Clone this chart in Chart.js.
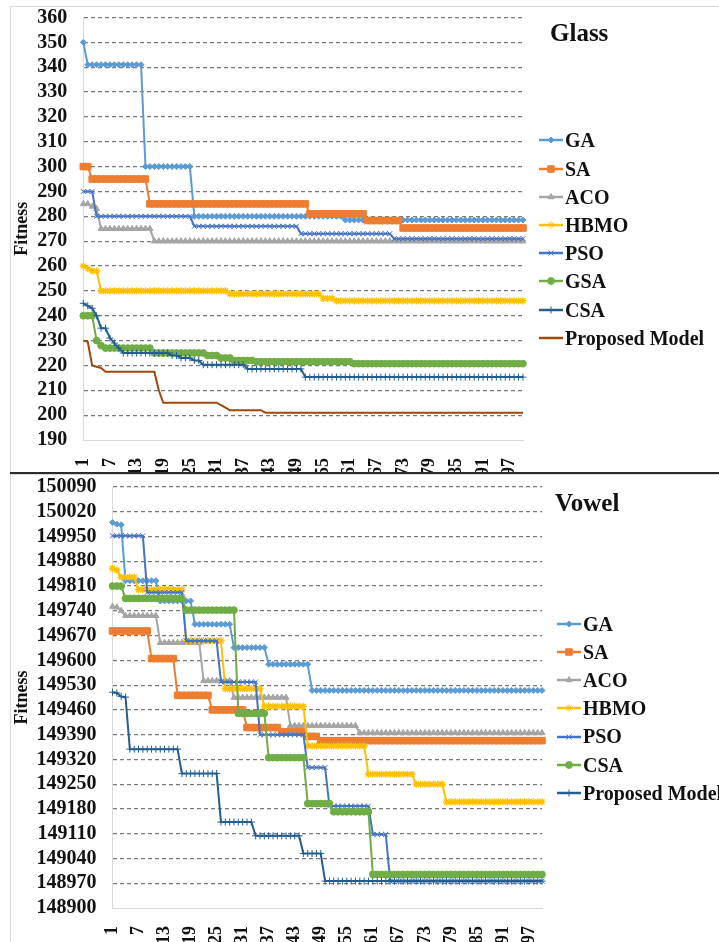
<!DOCTYPE html>
<html>
<head>
<meta charset="utf-8">
<script src="https://cdn.jsdelivr.net/npm/chart.js@4.4.1/dist/chart.umd.min.js"></script>
<style>
  html, body { margin: 0; padding: 0; background: #fff; }
  body { width: 719px; height: 942px; position: relative; overflow: hidden;
         font-family: "Liberation Serif", "Times New Roman", serif; color: #111; }
  canvas.chart { position: absolute; left: 0; }
  .frame { position: absolute; border: 1px solid #d9d9d9; }
  .sep { position: absolute; left: 10px; top: 471.5px; width: 709px; height: 2px; background: #2b2b2b; z-index: 3; }
  .title { position: absolute; font-weight: bold; font-size: 25px; line-height: 25px; white-space: nowrap; }
  .legend { position: absolute; font-weight: bold; font-size: 20px; }
  .legend div { height: 28.2px; line-height: 28.2px; display: flex; align-items: center; white-space: nowrap; }
  .legend canvas { margin-right: 2px; }
</style>
</head>
<body>
<div class="frame" style="left:10px; top:6px; width:720px; height:466px;"></div>
<div class="frame" style="left:10px; top:474px; width:720px; height:480px;"></div>
<canvas id="glassChart" class="chart" width="719" height="472" style="top:0;"></canvas>
<canvas id="vowelChart" class="chart" width="719" height="470" style="top:472px;"></canvas>
<div class="sep"></div>
<div class="title" style="left:550px; top:20px;">Glass</div>
<div class="title" style="left:555px; top:490px;">Vowel</div>
<div id="glassLegend" class="legend" style="left:539px; top:126.4px;"></div>
<div id="vowelLegend" class="legend" style="left:557px; top:609.7px;"></div>

<script>
// iterations on the category axis
const iterations = ['1','2','3','4','5','6','7','8','9','10','11','12','13','14','15','16','17','18','19','20',
  '21','22','23','24','25','26','27','28','29','30','31','32','33','34','35','36','37','38','39','40',
  '41','42','43','44','45','46','47','48','49','50','51','52','53','54','55','56','57','58','59','60',
  '61','62','63','64','65','66','67','68','69','70','71','72','73','74','75','76','77','78','79','80',
  '81','82','83','84','85','86','87','88','89','90','91','92','93','94','95','96','97','98','99','100'];
const xTickLabels = ['1','7','13','19','25','31','37','43','49','55','61','67','73','79','85','91','97'];

const glassTicks = [190,200,210,220,230,240,250,260,270,280,290,300,310,320,330,340,350,360];
const vowelTicks = [148900,148970,149040,149110,149180,149250,149320,149390,149460,149530,
  149600,149670,149740,149810,149880,149950,150020,150090];

const glassNames = ['GA','SA','ACO','HBMO','PSO','GSA','CSA','Proposed Model'];
const vowelNames = ['GA','SA','ACO','HBMO','PSO','CSA','Proposed Model'];

// ---- Glass ----
const glassGA = [
  350,341,341,341,341,341,341,341,341,341,
  341,341,341,341,300,300,300,300,300,300,
  300,300,300,300,300,280,280,280,280,280,
  280,280,280,280,280,280,280,280,280,280,
  280,280,280,280,280,280,280,280,280,280,
  280,280,280,280,280,280,280,280,280,278.5,
  278.5,278.5,278.5,278.5,278.5,278.5,278.5,278.5,278.5,278.5,
  278.5,278.5,278.5,278.5,278.5,278.5,278.5,278.5,278.5,278.5,
  278.5,278.5,278.5,278.5,278.5,278.5,278.5,278.5,278.5,278.5,
  278.5,278.5,278.5,278.5,278.5,278.5,278.5,278.5,278.5,278.5];
const glassSA = [
  300,300,295,295,295,295,295,295,295,295,
  295,295,295,295,295,285,285,285,285,285,
  285,285,285,285,285,285,285,285,285,285,
  285,285,285,285,285,285,285,285,285,285,
  285,285,285,285,285,285,285,285,285,285,
  285,281,281,281,281,281,281,281,281,281,
  281,281,281,281,278.3,278.3,278.3,278.3,278.3,278.3,
  278.3,278.3,275.3,275.3,275.3,275.3,275.3,275.3,275.3,275.3,
  275.3,275.3,275.3,275.3,275.3,275.3,275.3,275.3,275.3,275.3,
  275.3,275.3,275.3,275.3,275.3,275.3,275.3,275.3,275.3,275.3];
const glassACO = [
  285,285,284,283,275,275,275,275,275,275,
  275,275,275,275,275,275,270,270,270,270,
  270,270,270,270,270,270,270,270,270,270,
  270,270,270,270,270,270,270,270,270,270,
  270,270,270,270,270,270,270,270,270,270,
  270,270,270,270,270,270,270,270,270,270,
  270,270,270,270,270,270,270,270,270,270,
  270,270,270,270,270,270,270,270,270,270,
  270,270,270,270,270,270,270,270,270,270,
  270,270,270,270,270,270,270,270,270,270];
const glassHBMO = [
  260,259,258,258,250,250,250,250,250,250,
  250,250,250,250,250,250,250,250,250,250,
  250,250,250,250,250,250,250,250,250,250,
  250,250,250,248.8,248.8,248.8,248.8,248.8,248.8,248.8,
  248.8,248.8,248.8,248.8,248.8,248.8,248.8,248.8,248.8,248.8,
  248.8,248.8,248.8,248.8,247,247,247,246,246,246,
  246,246,246,246,246,246,246,246,246,246,
  246,246,246,246,246,246,246,246,246,246,
  246,246,246,246,246,246,246,246,246,246,
  246,246,246,246,246,246,246,246,246,246];
const glassPSO = [
  290,290,290,280,280,280,280,280,280,280,
  280,280,280,280,280,280,280,280,280,280,
  280,280,280,280,280,276,276,276,276,276,
  276,276,276,276,276,276,276,276,276,276,
  276,276,276,276,276,276,276,276,276,273,
  273,273,273,273,273,273,273,273,273,273,
  273,273,273,273,273,273,273,273,273,273,
  271,271,271,271,271,271,271,271,271,271,
  271,271,271,271,271,271,271,271,271,271,
  271,271,271,271,271,271,271,271,271,271];
const glassGSA = [
  240,240,240,230,228,227,227,227,227,227,
  227,227,227,227,227,227,225,225,225,225,
  225,225,225,225,225,225,225,225,224,224,
  224,223,223,223,222,222,222,222,222,221.5,
  221.5,221.5,221.5,221.5,221.5,221.5,221.5,221.5,221.5,221.5,
  221.5,221.5,221.5,221.5,221.5,221.5,221.5,221.5,221.5,221.5,
  221.5,220.7,220.7,220.7,220.7,220.7,220.7,220.7,220.7,220.7,
  220.7,220.7,220.7,220.7,220.7,220.7,220.7,220.7,220.7,220.7,
  220.7,220.7,220.7,220.7,220.7,220.7,220.7,220.7,220.7,220.7,
  220.7,220.7,220.7,220.7,220.7,220.7,220.7,220.7,220.7,220.7];
const glassCSA = [
  245,244,243,240,235,235,231,229,227,225,
  225,225,225,225,225,225,225,225,225,225,
  224,224,223,223,223,222,222,220.3,220.3,220.3,
  220.3,220.3,220.3,220.3,220.3,220.3,220.3,218.6,218.6,218.6,
  218.6,218.6,218.6,218.6,218.6,218.6,218.6,218.6,218.6,218.6,
  215.3,215.3,215.3,215.3,215.3,215.3,215.3,215.3,215.3,215.3,
  215.3,215.3,215.3,215.3,215.3,215.3,215.3,215.3,215.3,215.3,
  215.3,215.3,215.3,215.3,215.3,215.3,215.3,215.3,215.3,215.3,
  215.3,215.3,215.3,215.3,215.3,215.3,215.3,215.3,215.3,215.3,
  215.3,215.3,215.3,215.3,215.3,215.3,215.3,215.3,215.3,215.3];
const glassProposed = [
  230,229.5,220,219.5,219,217.5,217.5,217.5,217.5,217.5,
  217.5,217.5,217.5,217.5,217.5,217.5,217.5,210,205,205,
  205,205,205,205,205,205,205,205,205,205,
  205,204,203,202,202,202,202,202,202,202,
  202,201,201,201,201,201,201,201,201,201,
  201,201,201,201,201,201,201,201,201,201,
  201,201,201,201,201,201,201,201,201,201,
  201,201,201,201,201,201,201,201,201,201,
  201,201,201,201,201,201,201,201,201,201,
  201,201,201,201,201,201,201,201,201,201];

// ---- Vowel ----
const vowelGA = [
  149990,149985,149983,149825,149825,149825,149825,149825,149825,149825,
  149825,149768,149768,149768,149768,149768,149768,149768,149768,149702,
  149702,149702,149702,149702,149702,149702,149702,149702,149636,149636,
  149636,149636,149636,149636,149636,149636,149589,149589,149589,149589,
  149589,149589,149589,149589,149589,149589,149515,149515,149515,149515,
  149515,149515,149515,149515,149515,149515,149515,149515,149515,149515,
  149515,149515,149515,149515,149515,149515,149515,149515,149515,149515,
  149515,149515,149515,149515,149515,149515,149515,149515,149515,149515,
  149515,149515,149515,149515,149515,149515,149515,149515,149515,149515,
  149515,149515,149515,149515,149515,149515,149515,149515,149515,149515];
const vowelSA = [
  149683,149683,149683,149683,149683,149683,149683,149683,149683,149605,
  149605,149605,149605,149605,149605,149501,149501,149501,149501,149501,
  149501,149501,149501,149460,149460,149460,149460,149460,149460,149460,
  149460,149410,149410,149410,149410,149410,149410,149410,149410,149398,
  149398,149398,149398,149398,149398,149385,149385,149385,149373,149373,
  149373,149373,149373,149373,149373,149373,149373,149373,149373,149373,
  149373,149373,149373,149373,149373,149373,149373,149373,149373,149373,
  149373,149373,149373,149373,149373,149373,149373,149373,149373,149373,
  149373,149373,149373,149373,149373,149373,149373,149373,149373,149373,
  149373,149373,149373,149373,149373,149373,149373,149373,149373,149373];
const vowelACO = [
  149752,149750,149740,149726,149726,149726,149726,149726,149726,149726,
  149726,149650,149650,149650,149650,149650,149650,149650,149650,149650,
  149650,149542,149542,149542,149542,149542,149542,149542,149495,149495,
  149495,149495,149495,149495,149495,149495,149495,149495,149495,149495,
  149495,149415,149415,149415,149415,149415,149415,149415,149415,149415,
  149415,149415,149415,149415,149415,149415,149415,149395,149395,149395,
  149395,149395,149395,149395,149395,149395,149395,149395,149395,149395,
  149395,149395,149395,149395,149395,149395,149395,149395,149395,149395,
  149395,149395,149395,149395,149395,149395,149395,149395,149395,149395,
  149395,149395,149395,149395,149395,149395,149395,149395,149395,149395];
const vowelHBMO = [
  149860,149855,149835,149835,149835,149835,149800,149800,149800,149800,
  149800,149800,149800,149800,149800,149800,149800,149655,149655,149655,
  149655,149655,149655,149655,149655,149655,149520,149520,149520,149520,
  149520,149520,149520,149520,149520,149470,149470,149470,149470,149470,
  149470,149470,149470,149470,149470,149358,149358,149358,149358,149358,
  149358,149358,149358,149358,149358,149358,149358,149358,149358,149278,
  149278,149278,149278,149278,149278,149278,149278,149278,149278,149278,
  149250,149250,149250,149250,149250,149250,149250,149200,149200,149200,
  149200,149200,149200,149200,149200,149200,149200,149200,149200,149200,
  149200,149200,149200,149200,149200,149200,149200,149200,149200,149200];
const vowelPSO = [
  149952,149952,149952,149952,149952,149952,149952,149952,149792,149792,
  149792,149792,149792,149792,149792,149792,149792,149655,149655,149655,
  149655,149655,149655,149655,149655,149539,149539,149539,149539,149539,
  149539,149539,149539,149539,149390,149390,149390,149390,149390,149390,
  149390,149390,149390,149390,149390,149297,149297,149297,149297,149297,
  149188,149188,149188,149188,149188,149188,149188,149188,149188,149188,
  149108,149108,149108,149108,148976,148976,148976,148976,148976,148976,
  148976,148976,148976,148976,148976,148976,148976,148976,148976,148976,
  148976,148976,148976,148976,148976,148976,148976,148976,148976,148976,
  148976,148976,148976,148976,148976,148976,148976,148976,148976,148976];
const vowelCSA = [
  149810,149810,149810,149775,149775,149775,149775,149775,149775,149775,
  149775,149775,149775,149775,149775,149775,149775,149742,149742,149742,
  149742,149742,149742,149742,149742,149742,149742,149742,149742,149450,
  149450,149450,149450,149450,149450,149450,149325,149325,149325,149325,
  149325,149325,149325,149325,149325,149195,149195,149195,149195,149195,
  149195,149172,149172,149172,149172,149172,149172,149172,149172,149172,
  148995,148995,148995,148995,148995,148995,148995,148995,148995,148995,
  148995,148995,148995,148995,148995,148995,148995,148995,148995,148995,
  148995,148995,148995,148995,148995,148995,148995,148995,148995,148995,
  148995,148995,148995,148995,148995,148995,148995,148995,148995,148995];
const vowelProposed = [
  149510,149508,149498,149496,149349,149349,149349,149349,149349,149349,
  149349,149349,149349,149349,149349,149349,149280,149280,149280,149280,
  149280,149280,149280,149280,149280,149143,149143,149143,149143,149143,
  149143,149143,149143,149104,149104,149104,149104,149104,149104,149104,
  149104,149104,149104,149104,149054,149054,149054,149054,149054,148976,
  148976,148976,148976,148976,148976,148976,148976,148976,148976,148976,
  148976,148976,148976,148976,148976,148976,148976,148976,148976,148976,
  148976,148976,148976,148976,148976,148976,148976,148976,148976,148976,
  148976,148976,148976,148976,148976,148976,148976,148976,148976,148976,
  148976,148976,148976,148976,148976,148976,148976,148976,148976,148976];

// look of each series (Excel office palette + markers)
const STYLE = {
  GA:    { color: '#5B9BD5', marker: 'rectRot',  radius: 3 },
  SA:    { color: '#ED7D31', marker: 'rect',     radius: 4.6 },
  ACO:   { color: '#A5A5A5', marker: 'triangle', radius: 3.5 },
  HBMO:  { color: '#FFC000', marker: 'star',     radius: 3.6 },
  PSO:   { color: '#4472C4', marker: 'crossRot', radius: 3.5 },
  green: { color: '#70AD47', marker: 'circle',   radius: 3.4 },
  navy:  { color: '#255E91', marker: 'cross',    radius: 3.5 },
  brown: { color: '#9E480E', marker: false,      radius: 0 }
};
const glassLook = ['GA','SA','ACO','HBMO','PSO','green','navy','brown'];
const vowelLook = ['GA','SA','ACO','HBMO','PSO','green','navy'];

const SERIF = '"Liberation Serif", "Times New Roman", serif';

function buildLegend(el, names, looks) {
    names.forEach((name, i) => {
        const st = STYLE[looks[i]];
        const row = document.createElement('div');
        const icon = document.createElement('canvas');
        icon.width = 24; icon.height = 14;
        const g = icon.getContext('2d');
        g.strokeStyle = st.color;
        g.fillStyle = st.color;
        g.lineWidth = 2.5;
        g.beginPath(); g.moveTo(0, 7); g.lineTo(24, 7); g.stroke();
        if (st.marker && Chart.helpers && Chart.helpers.drawPoint) {
            g.lineWidth = 1;
            Chart.helpers.drawPoint(g, { pointStyle: st.marker, rotation: 0, radius: st.radius, borderWidth: 1 }, 12, 7);
        }
        const span = document.createElement('span');
        span.textContent = name;
        row.appendChild(icon);
        row.appendChild(span);
        el.appendChild(row);
    });
}

function buildChart(canvasId, names, series, looks, ticks, L) {
    const datasets = names.map((name, i) => {
        const st = STYLE[looks[i]];
        return {
            label: name,
            data: series[i],
            borderColor: st.color,
            backgroundColor: st.color,
            borderWidth: 2,
            pointStyle: st.marker,
            pointRadius: st.radius,
            pointHoverRadius: st.radius,
            pointBorderWidth: st.marker === 'star' ? 1.4 : 1,
            pointBackgroundColor: st.color,
            pointBorderColor: st.color,
            tension: 0,
            fill: false,
            clip: false,
            order: names.length - i   // later series drawn on top, like Excel
        };
    });

    new Chart(document.getElementById(canvasId), {
        type: 'line',
        data: { labels: iterations, datasets },
        options: {
            responsive: false,
            animation: false,
            layout: { padding: { top: L.top, right: L.right, left: 0, bottom: 0 } },
            plugins: { legend: { display: false }, tooltip: { enabled: false } },
            scales: {
                x: {
                    grid: { display: false },
                    border: { display: true, color: '#d9d9d9', width: 1 },
                    ticks: {
                        autoSkip: false, minRotation: 90, maxRotation: 90, padding: 10,
                        color: '#111', font: { family: SERIF, size: 18, weight: 'bold' },
                        callback: function(value) {
                            const lab = this.getLabelForValue(value);
                            return xTickLabels.includes(lab) ? lab : '';
                        }
                    },
                    afterFit: s => { s.height = L.xHeight; s.paddingLeft = 0; s.paddingRight = 0; }
                },
                y: {
                    min: ticks[0],
                    max: ticks[ticks.length - 1],
                    afterBuildTicks: s => { s.ticks = ticks.map(v => ({ value: v })); },
                    grid: {
                        drawTicks: false, lineWidth: 1.2,
                        color: c => (c.tick && c.tick.value === ticks[0]) ? 'rgba(0,0,0,0)' : '#7a7a7a'
                    },
                    border: { display: true, color: '#d9d9d9', width: 1, dash: [4, 3] },
                    ticks: {
                        autoSkip: false, padding: 16, color: '#111',
                        font: { family: SERIF, size: 20, weight: 'bold' },
                        callback: v => String(v)
                    },
                    title: {
                        display: true, text: 'Fitness', color: '#111',
                        font: { family: SERIF, size: 18, weight: 'bold' },
                        padding: { top: 12, bottom: 0 }
                    },
                    afterFit: s => { s.width = L.yWidth; s.paddingTop = 0; s.paddingBottom = 0; }
                }
            }
        }
    });
}

buildChart('glassChart', glassNames,
    [glassGA, glassSA, glassACO, glassHBMO, glassPSO, glassGSA, glassCSA, glassProposed],
    glassLook, glassTicks, { top: 17.5, right: 196, xHeight: 32, yWidth: 83.3 });

buildChart('vowelChart', vowelNames,
    [vowelGA, vowelSA, vowelACO, vowelHBMO, vowelPSO, vowelCSA, vowelProposed],
    vowelLook, vowelTicks, { top: 15, right: 177, xHeight: 34, yWidth: 112.5 });

buildLegend(document.getElementById('glassLegend'), glassNames, glassLook);
buildLegend(document.getElementById('vowelLegend'), vowelNames, vowelLook);
</script>
</body>
</html>
